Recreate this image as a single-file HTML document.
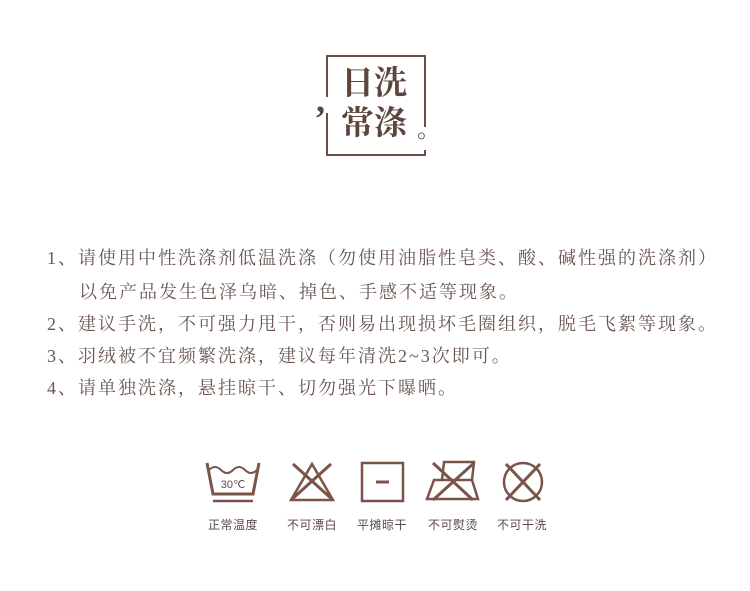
<!DOCTYPE html>
<html><head><meta charset="utf-8"><style>
body{margin:0;width:750px;height:591px;background:#fff;position:relative;overflow:hidden;font-family:"Liberation Serif","Noto Serif CJK SC",serif;color:#6a5650}
.t{position:absolute;font-size:33px;color:#5e463e;line-height:1;font-weight:bold}
.line{position:absolute;left:47px;font-size:18px;letter-spacing:2px;white-space:nowrap;line-height:1}
.lbl{position:absolute;top:516px;font-size:12px;width:70px;text-align:center;color:#5a4a46;letter-spacing:0.5px;font-family:"Liberation Sans","Noto Sans CJK SC",sans-serif}
</style></head><body>
<svg style="position:absolute;left:0;top:0" width="750" height="200">
<path d="M327 97 V56 H425 V127 M425 150 V155 H327 V113" fill="none" stroke="#6a4d43" stroke-width="2"/>
</svg>
<div class="t" style="left:316px;top:82px;font-size:36px">,</div>
<div class="t" style="left:341px;top:68px">日洗</div>
<div class="t" style="left:341px;top:108px">常涤</div>
<div class="t" style="left:417px;top:118px;font-size:24px;font-weight:normal">。</div>

<div class="line" style="top:249px">1、请使用中性洗涤剂低温洗涤（勿使用油脂性皂类、酸、碱性强的洗涤剂）</div>
<div class="line" style="top:283px;left:79px">以免产品发生色泽乌暗、掉色、手感不适等现象。</div>
<div class="line" style="top:315px">2、建议手洗，不可强力甩干，否则易出现损坏毛圈组织，脱毛飞絮等现象。</div>
<div class="line" style="top:347px">3、羽绒被不宜频繁洗涤，建议每年清洗2~3次即可。</div>
<div class="line" style="top:379px">4、请单独洗涤，悬挂晾干、切勿强光下曝晒。</div>

<svg style="position:absolute;left:0;top:450px" width="750" height="60">
<g stroke="#7a5448" stroke-width="3" fill="none">
<g>
<path d="M207 13 L213 44 H253 L259 13"/>
<path d="M209 20 q6 -6 12 0 q6 6 12 0 q6 -6 12 0 q6 6 12 0" stroke-width="2"/>
<line x1="213" y1="51" x2="253" y2="51" stroke-width="2.5"/>
<text x="233" y="38" text-anchor="middle" font-size="11" fill="#5a4a46" stroke="none" font-family="Liberation Sans,sans-serif">30℃</text>
</g>
<g>
<path d="M312 14 L291 50 H333 Z" stroke-width="2.5"/>
<line x1="293" y1="14" x2="333" y2="50"/><line x1="331" y1="14" x2="291" y2="50"/>
</g>
<g>
<rect x="362" y="13" width="41" height="38" stroke-width="2.5"/>
<line x1="376" y1="32" x2="389" y2="32"/>
</g>
<g>
<path d="M434 30 H472 L478 49 H427 Z M442 30 L444 12 H474 L472 30" stroke-width="2.5"/>
<line x1="433" y1="13" x2="473" y2="50"/><line x1="474" y1="13" x2="433" y2="50"/>
</g>
<g>
<circle cx="523" cy="32" r="19" stroke-width="2.5"/>
<line x1="506" y1="14" x2="540" y2="50"/><line x1="540" y1="14" x2="506" y2="50"/>
</g>
</g></svg>
<div class="lbl" style="left:198px">正常温度</div>
<div class="lbl" style="left:277px">不可漂白</div>
<div class="lbl" style="left:347px">平摊晾干</div>
<div class="lbl" style="left:418px">不可熨烫</div>
<div class="lbl" style="left:487px">不可干洗</div>
</body></html>
